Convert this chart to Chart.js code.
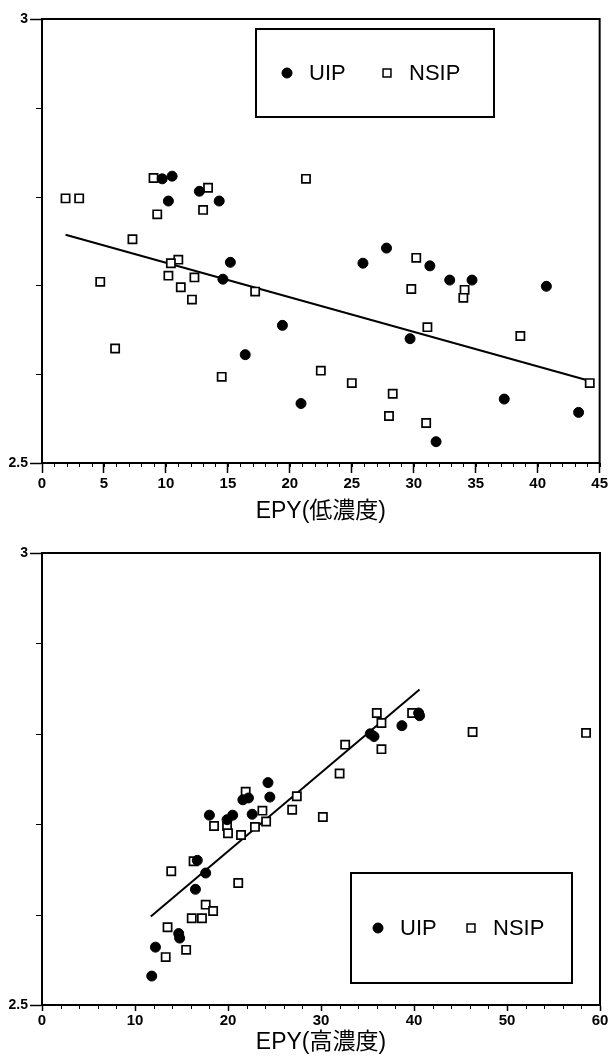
<!DOCTYPE html>
<html>
<head>
<meta charset="utf-8">
<script src="https://cdn.jsdelivr.net/npm/chart.js@4.4.1/dist/chart.umd.min.js"></script>
<style>
html, body { margin: 0; padding: 0; background: #fff; }
canvas { position: absolute; left: 0; }
</style>
</head>
<body>
<canvas id="lowChart" width="610" height="530" style="top:0"></canvas>
<canvas id="highChart" width="610" height="526" style="top:530px"></canvas>
<script>
// low concentration (top chart)
const lowUipX = [9.7, 10.5, 10.2, 12.7, 14.3, 15.2, 14.6, 19.4, 16.4, 20.9, 25.9, 27.8, 29.7, 31.3, 32.9, 34.7, 40.7, 37.3, 31.8, 43.3];
const lowUipY = [2.820, 2.823, 2.795, 2.806, 2.795, 2.726, 2.707, 2.655, 2.622, 2.567, 2.725, 2.742, 2.640, 2.722, 2.706, 2.706, 2.699, 2.572, 2.524, 2.557];
const lowNsipX = [1.9, 3.0, 9.0, 9.3, 13.4, 13.0, 7.3, 11.0, 10.4, 10.2, 12.3, 11.2, 12.1, 4.7, 17.2, 21.3, 30.2, 29.8, 34.1, 34.0, 5.9, 14.5, 22.5, 25.0, 28.3, 28.0, 31.0, 31.1, 38.6, 44.2];
const lowNsipY = [2.798, 2.798, 2.821, 2.780, 2.810, 2.785, 2.752, 2.729, 2.725, 2.711, 2.709, 2.698, 2.684, 2.704, 2.693, 2.820, 2.731, 2.696, 2.695, 2.686, 2.629, 2.597, 2.604, 2.590, 2.578, 2.553, 2.545, 2.653, 2.643, 2.590];
const lowFitX = [1.9, 44.3];
const lowFitY = [2.757, 2.592];

// high concentration (bottom chart)
const highUipX = [18.0, 19.9, 20.5, 21.6, 22.2, 24.3, 24.5, 22.6, 35.3, 35.7, 38.7, 40.5, 40.6, 16.7, 17.6, 16.5, 14.7, 14.8, 12.2, 11.8];
const highUipY = [2.710, 2.705, 2.710, 2.727, 2.729, 2.746, 2.730, 2.711, 2.800, 2.797, 2.809, 2.823, 2.820, 2.660, 2.646, 2.628, 2.579, 2.574, 2.564, 2.532];
const highNsipX = [18.5, 19.9, 20.0, 21.4, 21.9, 22.9, 23.7, 24.1, 26.9, 27.4, 30.2, 32.0, 32.6, 36.0, 36.5, 36.5, 39.8, 46.3, 58.5, 16.3, 13.9, 21.1, 17.6, 18.4, 16.1, 17.2, 13.5, 15.5, 13.3];
const highNsipY = [2.698, 2.698, 2.690, 2.688, 2.736, 2.697, 2.715, 2.703, 2.716, 2.731, 2.708, 2.756, 2.788, 2.823, 2.812, 2.783, 2.823, 2.802, 2.801, 2.659, 2.648, 2.635, 2.611, 2.604, 2.596, 2.596, 2.586, 2.561, 2.553];
const highFitX = [11.7, 40.6];
const highFitY = [2.598, 2.849];

const seriesNames = ['UIP', 'NSIP'];
const yRange = [2.5, 3];
const yLabels = { 2.5: '2.5', 3: '3' };
const lowXRange = [0, 45];
const highXRange = [0, 60];

const pts = (xs, ys) => xs.map((x, i) => ({ x, y: ys[i] }));

// full frame, minor ticks and the boxed legend inside the plot
const framePlugin = {
    id: 'frame',
    afterDraw(chart, args, o) {
        const { ctx, chartArea: a, scales } = chart;
        ctx.save();
        ctx.strokeStyle = '#000';
        ctx.lineWidth = 2;
        ctx.strokeRect(a.left, a.top, a.right - a.left, a.bottom - a.top);

        ctx.lineWidth = 1;
        ctx.beginPath();
        for (let v = scales.x.min; v <= scales.x.max + 1e-9; v += o.xMinor) {
            const px = Math.round(scales.x.getPixelForValue(v)) + 0.5;
            ctx.moveTo(px, a.bottom);
            ctx.lineTo(px, a.bottom + o.xMinorLen);
        }
        for (let v = scales.y.min; v <= scales.y.max + 1e-9; v += 0.1) {
            const py = Math.round(scales.y.getPixelForValue(v)) + 0.5;
            ctx.moveTo(a.left, py);
            ctx.lineTo(a.left - 6, py);
        }
        ctx.stroke();

        const b = o.box;
        ctx.lineWidth = 2;
        ctx.strokeRect(b.x, b.y, b.w, b.h);
        const cy = b.y + b.h / 2;
        ctx.font = '22px "Liberation Sans", Arial, sans-serif';
        ctx.textBaseline = 'middle';
        chart.data.datasets.slice(0, 2).forEach((ds, i) => {
            const mx = b.x + o.marks[i];
            ctx.fillStyle = ds.backgroundColor;
            ctx.strokeStyle = ds.borderColor;
            ctx.lineWidth = i === 0 ? 1 : 1.5;
            Chart.helpers.drawPoint(ctx, { pointStyle: ds.pointStyle, radius: i === 0 ? 5 : 5.6, rotation: 0, borderWidth: ctx.lineWidth }, mx, cy);
            ctx.fillStyle = '#000';
            ctx.fillText(ds.label, mx + 22, cy + 1);
        });
        ctx.restore();
    }
};

function makeChart(id, cfg) {
    return new Chart(document.getElementById(id), {
        type: 'scatter',
        data: {
            datasets: [
                { label: seriesNames[0], data: pts(cfg.uipX, cfg.uipY), pointStyle: 'circle', pointRadius: 5, borderWidth: 1, backgroundColor: '#000', borderColor: '#000' },
                { label: seriesNames[1], data: pts(cfg.nsipX, cfg.nsipY), pointStyle: 'rect', pointRadius: 5.8, borderWidth: 1.7, backgroundColor: '#fff', borderColor: '#000' },
                { label: 'fit', data: pts(cfg.fitX, cfg.fitY), showLine: true, pointRadius: 0, borderWidth: 2, borderColor: '#000', backgroundColor: '#000' }
            ]
        },
        options: {
            responsive: false,
            animation: false,
            events: [],
            layout: { padding: { top: cfg.top, right: 10, left: 0, bottom: 0 } },
            plugins: {
                legend: { display: false },
                tooltip: { enabled: false },
                frame: { box: cfg.box, marks: cfg.marks, xMinor: cfg.xMinor, xMinorLen: 4 }
            },
            scales: {
                x: {
                    type: 'linear', min: cfg.xRange[0], max: cfg.xRange[1],
                    border: { color: '#000', width: 2 },
                    grid: { drawOnChartArea: false, color: '#000', tickLength: cfg.xTickLen, tickWidth: 1.5 },
                    ticks: { stepSize: cfg.xStep, color: '#000', padding: cfg.xPad, maxRotation: 0, font: { family: '"Liberation Sans", Arial', size: 15, weight: 'bold' } },
                    title: { display: true, text: cfg.title, color: '#000', padding: { top: 0, bottom: cfg.titlePad }, font: { family: '"Liberation Sans", "Noto Sans CJK JP", sans-serif', size: 23 } },
                    afterFit(s) { s.height = cfg.xHeight; }
                },
                y: {
                    min: yRange[0], max: yRange[1],
                    border: { color: '#000', width: 2 },
                    grid: { drawOnChartArea: false, color: '#000', tickLength: 12, tickWidth: 1.5 },
                    ticks: { stepSize: 0.5, color: '#000', padding: 2, font: { family: '"Liberation Sans", Arial', size: 14, weight: 'bold' },
                        callback: v => yLabels[v] ?? '' },
                    afterFit(s) { s.width = 42; }
                }
            }
        },
        plugins: [framePlugin]
    });
}

makeChart('lowChart', {
    uipX: lowUipX, uipY: lowUipY, nsipX: lowNsipX, nsipY: lowNsipY, fitX: lowFitX, fitY: lowFitY,
    xRange: lowXRange, xStep: 5, xMinor: 1, xTickLen: 10, xPad: 2,
    title: 'EPY(低濃度)', titlePad: 5, top: 19, xHeight: 67,
    box: { x: 256, y: 29, w: 238, h: 88 }, marks: [31, 131]
});

makeChart('highChart', {
    uipX: highUipX, uipY: highUipY, nsipX: highNsipX, nsipY: highNsipY, fitX: highFitX, fitY: highFitY,
    xRange: highXRange, xStep: 10, xMinor: 2, xTickLen: 6, xPad: 1,
    title: 'EPY(高濃度)', titlePad: 0, top: 23, xHeight: 51,
    box: { x: 351, y: 343, w: 221, h: 110 }, marks: [27, 120]
});
</script>
</body>
</html>
